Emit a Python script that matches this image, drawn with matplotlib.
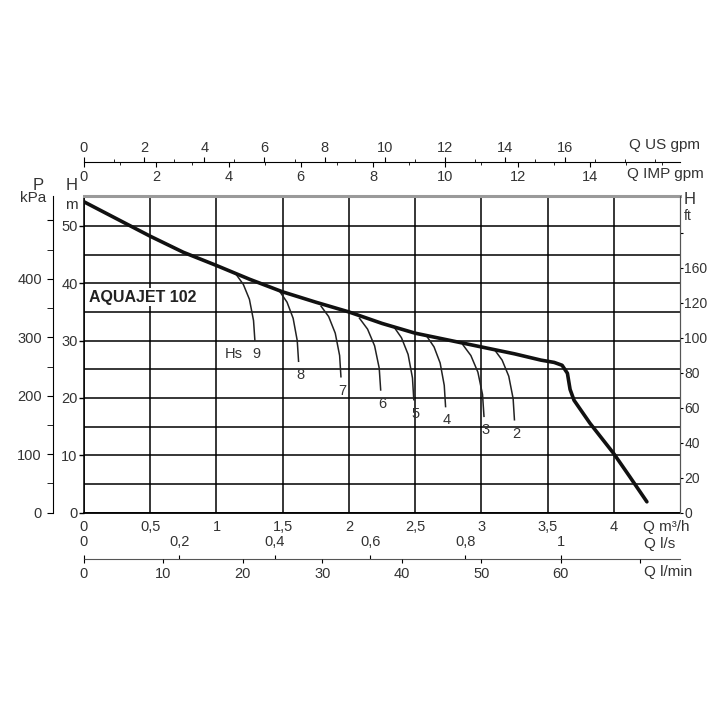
import matplotlib.pyplot as plt
import numpy as np

plt.rcParams['font.family'] = ['Liberation Sans', 'DejaVu Sans']

# Curva principale: portata Q (m3/h) - prevalenza H (m)
q_main = [0.0, 0.25, 0.5, 0.75, 1.0, 1.25, 1.5, 1.75, 2.0, 2.25, 2.5, 2.75,
          3.0, 3.25, 3.45, 3.55, 3.61, 3.65, 3.67, 3.70, 3.82, 4.0, 4.12, 4.25]
h_main = [54.2, 51.2, 48.2, 45.4, 43.1, 40.7, 38.5, 36.7, 35.0, 33.0, 31.3, 30.1,
          28.9, 27.7, 26.6, 26.2, 25.7, 24.3, 21.5, 19.6, 15.6, 10.3, 6.3, 1.9]

# Curve di aspirazione Hs (m)
hs_names = ['9', '8', '7', '6', '5', '4', '3', '2']
hs_q = [[1.15, 1.203, 1.249, 1.280, 1.29],
        [1.48, 1.533, 1.579, 1.610, 1.62],
        [1.79, 1.847, 1.897, 1.930, 1.94],
        [2.08, 2.141, 2.194, 2.229, 2.24],
        [2.34, 2.397, 2.447, 2.480, 2.49],
        [2.59, 2.643, 2.689, 2.720, 2.73],
        [2.86, 2.921, 2.974, 3.009, 3.02],
        [3.10, 3.157, 3.207, 3.240, 3.25]]
hs_h = [[41.5, 39.8, 37.2, 33.5, 30.1],
        [38.5, 36.7, 33.9, 30.0, 26.4],
        [36.0, 34.2, 31.3, 27.4, 23.7],
        [33.9, 32.0, 29.1, 25.2, 21.4],
        [32.4, 30.5, 27.6, 23.5, 19.7],
        [30.7, 28.9, 26.1, 22.2, 18.5],
        [29.3, 27.4, 24.5, 20.6, 16.8],
        [28.4, 26.6, 23.8, 19.9, 16.2]]

# Scale
q_ticks = [0, 0.5, 1, 1.5, 2, 2.5, 3, 3.5, 4]
q_labels = ['0', '0,5', '1', '1,5', '2', '2,5', '3', '3,5', '4']
h_ticks = [0, 10, 20, 30, 40, 50]
kpa_ticks = [0, 100, 200, 300, 400, 500]
kpa_labels = ['0', '100', '200', '300', '400', '']
ft_ticks = [0, 20, 40, 60, 80, 100, 120, 140, 160]
ft_labels = ['0', '20', '40', '60', '80', '100', '120', '160', '']
us_ticks = [0, 2, 4, 6, 8, 10, 12, 14, 16]
imp_ticks = [0, 2, 4, 6, 8, 10, 12, 14]
ls_ticks = [0, 0.2, 0.4, 0.6, 0.8, 1.0]
ls_labels = ['0', '0,2', '0,4', '0,6', '0,8', '1']
lmin_ticks = [0, 10, 20, 30, 40, 50, 60, 70]
lmin_labels = ['0', '10', '20', '30', '40', '50', '60', '']

# conversioni
US_GPM = 0.2271    # m3/h
IMP_GPM = 0.27277  # m3/h
LS = 3.6           # m3/h
LMIN = 0.06        # m3/h
KPA = 9.81         # kPa per m
FT = 3.2808        # ft per m

QMAX, HMAX = 4.5, 55.3
TXT = '#333333'
W = 724.0

fig = plt.figure(figsize=(7.24, 7.24), dpi=100)
fig.patch.set_facecolor('white')

L, R = 84 / W, 680 / W
B, T = 1 - 512.7 / W, 1 - 195.5 / W
ax = fig.add_axes([L, B, R - L, T - B])
ax.set_xlim(0, QMAX)
ax.set_ylim(0, HMAX)
ax.set_xticks(q_ticks)
ax.set_xticklabels(q_labels)
ax.set_yticks(h_ticks)
ax.set_yticks(np.arange(5, 50, 10), minor=True)
ax.tick_params(axis='x', length=0, pad=5, labelsize=10.5, labelcolor=TXT)
ax.tick_params(axis='y', which='major', length=3.5, pad=1, labelsize=10.5,
               labelcolor=TXT, width=1)
ax.tick_params(axis='y', which='minor', length=0)
ax.grid(True, which='both', color='black', lw=1.1)
ax.spines['top'].set_color('#9a9a9a')
ax.spines['top'].set_linewidth(2.2)
ax.spines['right'].set_color('#555555')
ax.spines['left'].set_linewidth(1.1)
ax.spines['bottom'].set_linewidth(1.3)

ax.plot(q_main, h_main, color='#111111', lw=2.6, solid_capstyle='round',
        solid_joinstyle='round', zorder=5)
for name, qs, hs in zip(hs_names, hs_q, hs_h):
    ax.plot(qs, hs, color='#222222', lw=1.1, zorder=4)
    ax.annotate(name, (qs[-1], hs[-1]), xytext=(1, -10), textcoords='offset points',
                ha='center', va='center', fontsize=10.5, color=TXT)
ax.annotate('Hs', (hs_q[0][-1], hs_h[0][-1]), xytext=(-15, -10),
            textcoords='offset points', ha='center', va='center',
            fontsize=10.5, color=TXT)
ax.text(0.04, 37.6, 'AQUAJET 102', fontweight='bold', fontsize=11.5,
        color='#222222', va='center', ha='left', zorder=6,
        bbox=dict(facecolor='white', edgecolor='none', pad=1))

# asse destro H ft
axr = ax.twinx()
axr.set_ylim(0, HMAX * FT)
axr.set_yticks(ft_ticks)
axr.set_yticklabels(ft_labels)
axr.tick_params(axis='y', length=2.5, pad=0.5, labelsize=10, labelcolor=TXT)
for s in ['left', 'top', 'bottom']:
    axr.spines[s].set_visible(False)
axr.spines['right'].set_color('#555555')

# asse sinistro P kPa
axp = fig.add_axes([53 / W, B, 0.0001, T - B])
axp.set_ylim(0, HMAX * KPA)
axp.set_yticks(kpa_ticks)
axp.set_yticklabels(kpa_labels)
axp.set_yticks(np.arange(50, 500, 100), minor=True)
axp.tick_params(axis='y', which='both', length=4.5, pad=3.5, labelsize=10.5,
                labelcolor=TXT)
axp.set_xticks([])
for s in ['right', 'top', 'bottom']:
    axp.spines[s].set_visible(False)
axp.patch.set_visible(False)

# scala superiore US gpm / IMP gpm
y_top = 1 - 162 / W
axus = fig.add_axes([L, y_top, R - L, 0.0001])
axus.set_xlim(0, QMAX / US_GPM)
axus.xaxis.set_ticks_position('top')
axus.set_xticks(us_ticks)
axus.set_xticks(np.arange(1, 20, 1), minor=True)
axus.tick_params(axis='x', which='major', length=3.5, pad=1.5, labelsize=10.5,
                 labelcolor=TXT)
axus.tick_params(axis='x', which='minor', length=2.2)
axus.set_yticks([])
for s in ['left', 'right', 'bottom']:
    axus.spines[s].set_visible(False)
axus.patch.set_visible(False)

aximp = fig.add_axes([L, y_top, R - L, 0.0001])
aximp.set_xlim(0, QMAX / IMP_GPM)
aximp.set_xticks(imp_ticks)
aximp.set_xticks(np.arange(1, 17, 1), minor=True)
aximp.tick_params(axis='x', which='major', length=3.5, pad=2, labelsize=10.5,
                  labelcolor=TXT)
aximp.tick_params(axis='x', which='minor', length=2.2)
aximp.set_yticks([])
for s in ['left', 'right', 'top', 'bottom']:
    aximp.spines[s].set_visible(False)
aximp.patch.set_visible(False)

# scala inferiore l/s / l/min
y_bot = 1 - 559 / W
axls = fig.add_axes([L, y_bot, R - L, 0.0001])
axls.set_xlim(0, QMAX / LS)
axls.xaxis.set_ticks_position('top')
axls.set_xticks(ls_ticks)
axls.set_xticklabels(ls_labels)
axls.tick_params(axis='x', length=3, pad=4.5, labelsize=10.5, labelcolor=TXT)
axls.set_yticks([])
for s in ['left', 'right', 'bottom']:
    axls.spines[s].set_visible(False)
axls.spines['top'].set_color('#555555')
axls.patch.set_visible(False)

axlm = fig.add_axes([L, y_bot, R - L, 0.0001])
axlm.set_xlim(0, QMAX / LMIN)
axlm.set_xticks(lmin_ticks)
axlm.set_xticklabels(lmin_labels)
axlm.tick_params(axis='x', length=3, pad=3, labelsize=10.5, labelcolor=TXT)
axlm.set_yticks([])
for s in ['left', 'right', 'top', 'bottom']:
    axlm.spines[s].set_visible(False)
axlm.patch.set_visible(False)

# nomi delle scale
fs = 11
fig.text(629 / W, 1 - 145 / W, 'Q US gpm', ha='left', va='center', fontsize=fs, color=TXT)
fig.text(627 / W, 1 - 174 / W, 'Q IMP gpm', ha='left', va='center', fontsize=fs, color=TXT)
fig.text(643 / W, 1 - 527 / W, 'Q m³/h', ha='left', va='center', fontsize=fs, color=TXT)
fig.text(644 / W, 1 - 544 / W, 'Q l/s', ha='left', va='center', fontsize=fs, color=TXT)
fig.text(644 / W, 1 - 572 / W, 'Q l/min', ha='left', va='center', fontsize=fs, color=TXT)
fig.text(684 / W, 1 - 200 / W, 'H', ha='left', va='center', fontsize=fs + 1, color=TXT)
fig.text(684 / W, 1 - 216 / W, 'ft', ha='left', va='center', fontsize=fs - 1, color=TXT)
fig.text(38 / W, 1 - 185 / W, 'P', ha='center', va='center', fontsize=fs + 1, color=TXT)
fig.text(33 / W, 1 - 198 / W, 'kPa', ha='center', va='center', fontsize=fs, color=TXT)
fig.text(72 / W, 1 - 185 / W, 'H', ha='center', va='center', fontsize=fs + 1, color=TXT)
fig.text(71 / W, 1 - 205 / W, 'm', ha='center', va='center', fontsize=fs, color=TXT)

fig.savefig('out.png', dpi=100, facecolor='white')
plt.close(fig)
